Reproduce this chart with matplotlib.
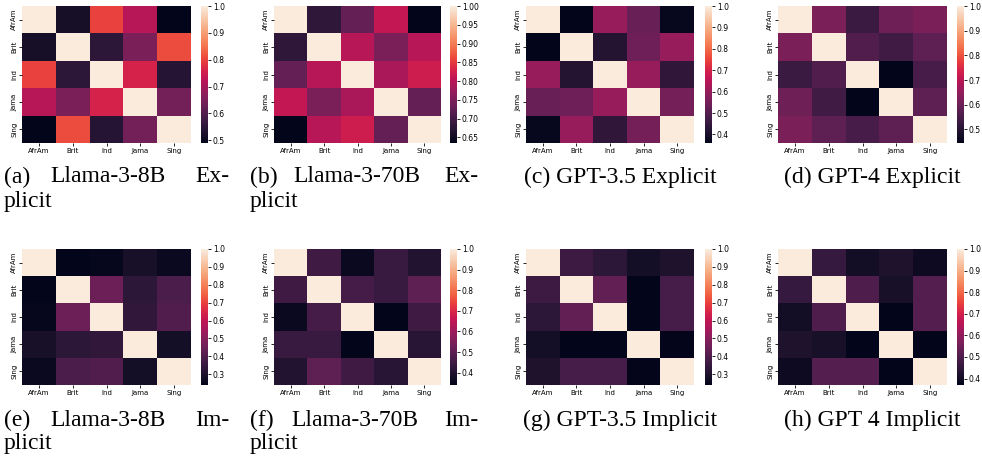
import numpy as np
import matplotlib.pyplot as plt
import seaborn as sns
from matplotlib.ticker import MultipleLocator

groups = ["AfrAm", "Brit", "Ind", "Jama", "Sing"]

# similarity matrices
llama8_exp = [[1.00, 0.52, 0.80, 0.72, 0.49],
              [0.52, 1.00, 0.55, 0.65, 0.81],
              [0.80, 0.55, 1.00, 0.76, 0.54],
              [0.72, 0.65, 0.76, 1.00, 0.64],
              [0.49, 0.81, 0.54, 0.64, 1.00]]
llama70_exp = [[1.00, 0.68, 0.73, 0.81, 0.635],
               [0.68, 1.00, 0.80, 0.75, 0.80],
               [0.73, 0.80, 1.00, 0.79, 0.82],
               [0.81, 0.75, 0.79, 1.00, 0.73],
               [0.635, 0.80, 0.82, 0.73, 1.00]]
gpt35_exp = [[1.00, 0.36, 0.60, 0.53, 0.37],
             [0.36, 1.00, 0.42, 0.54, 0.60],
             [0.60, 0.42, 1.00, 0.60, 0.44],
             [0.53, 0.54, 0.60, 1.00, 0.55],
             [0.37, 0.60, 0.44, 0.55, 1.00]]
gpt4_exp = [[1.00, 0.62, 0.53, 0.60, 0.62],
            [0.62, 1.00, 0.56, 0.54, 0.58],
            [0.53, 0.56, 1.00, 0.445, 0.55],
            [0.60, 0.54, 0.445, 1.00, 0.58],
            [0.62, 0.58, 0.55, 0.58, 1.00]]
llama8_imp = [[1.00, 0.24, 0.25, 0.29, 0.26],
              [0.24, 1.00, 0.45, 0.33, 0.39],
              [0.25, 0.45, 1.00, 0.34, 0.40],
              [0.29, 0.33, 0.34, 1.00, 0.28],
              [0.26, 0.39, 0.40, 0.28, 1.00]]
llama70_imp = [[1.00, 0.45, 0.36, 0.44, 0.40],
               [0.45, 1.00, 0.46, 0.44, 0.50],
               [0.36, 0.46, 1.00, 0.34, 0.45],
               [0.44, 0.44, 0.34, 1.00, 0.41],
               [0.40, 0.50, 0.45, 0.41, 1.00]]
gpt35_imp = [[1.00, 0.36, 0.33, 0.28, 0.30],
             [0.36, 1.00, 0.43, 0.24, 0.38],
             [0.33, 0.43, 1.00, 0.24, 0.38],
             [0.28, 0.24, 0.24, 1.00, 0.245],
             [0.30, 0.38, 0.38, 0.245, 1.00]]
gpt4_imp = [[1.00, 0.46, 0.40, 0.42, 0.39],
            [0.46, 1.00, 0.50, 0.41, 0.51],
            [0.40, 0.50, 1.00, 0.37, 0.51],
            [0.42, 0.41, 0.37, 1.00, 0.37],
            [0.39, 0.51, 0.51, 0.37, 1.00]]

mats = [llama8_exp, llama70_exp, gpt35_exp, gpt4_exp,
        llama8_imp, llama70_imp, gpt35_imp, gpt4_imp]
cbar_steps = [0.1, 0.05, 0.1, 0.1, 0.1, 0.1, 0.1, 0.1]
captions = [["(a)", "Llama-3-8B", "Ex-", "plicit"],
            ["(b)", "Llama-3-70B", "Ex-", "plicit"],
            ["(c) GPT-3.5 Explicit"],
            ["(d) GPT-4 Explicit"],
            ["(e)", "Llama-3-8B", "Im-", "plicit"],
            ["(f)", "Llama-3-70B", "Im-", "plicit"],
            ["(g) GPT-3.5 Implicit"],
            ["(h) GPT 4 Implicit"]]

W, H = 982, 459
fig = plt.figure(figsize=(W / 100, H / 100), dpi=100)


def px_axes(x0, y0, x1, y1):
    return fig.add_axes([x0 / W, 1 - y1 / H, (x1 - x0) / W, (y1 - y0) / H])


hm_x = [(22, 191), (274, 441), (526, 694), (778, 947)]
cb_x = [(201, 208), (450, 457), (705, 712), (957, 964)]
rows_y = [(6, 143), (249, 385)]
cap_span = [(4, 229), (250, 478), (515, 725), (767, 977)]
cap_y = [177, 420]
cap_font = dict(family="Liberation Serif", size=17, va="center")

for i, mat in enumerate(mats):
    r, c = divmod(i, 4)
    ax = px_axes(hm_x[c][0], rows_y[r][0], hm_x[c][1], rows_y[r][1])
    cax = px_axes(cb_x[c][0], rows_y[r][0], cb_x[c][1], rows_y[r][1])
    sns.heatmap(np.array(mat), ax=ax, cbar_ax=cax,
                xticklabels=groups, yticklabels=groups)
    ax.set_yticklabels(groups, rotation=90, va="center")
    ax.set_xticklabels(groups, rotation=0)
    ax.tick_params(labelsize=5, length=2, width=0.6, pad=1.5)
    cax.yaxis.set_major_locator(MultipleLocator(cbar_steps[i]))
    cax.tick_params(labelsize=5.5, length=2, width=0.6, pad=1.5)

# captions
renderer = fig.canvas.get_renderer()
for i, cap in enumerate(captions):
    r, c = divmod(i, 4)
    x0, x1 = cap_span[c]
    y = 1 - cap_y[r] / H
    if len(cap) == 1:
        fig.text((x0 + x1) / 2 / W, y, cap[0], ha="center", **cap_font)
        continue
    t1 = fig.text(x0 / W, y, cap[0], ha="left", **cap_font)
    t3 = fig.text(x1 / W, y, cap[2], ha="right", **cap_font)
    e1 = t1.get_window_extent(renderer)
    e3 = t3.get_window_extent(renderer)
    t2 = fig.text(0, y, cap[1], ha="left", **cap_font)
    w2 = t2.get_window_extent(renderer).width
    gap = e3.x0 - e1.x1 - w2
    t2.set_x((e1.x1 + 0.4 * gap) / W)
    fig.text(x0 / W, y - 24 / H, cap[3], ha="left", **cap_font)

fig.savefig("out.png", dpi=100)
